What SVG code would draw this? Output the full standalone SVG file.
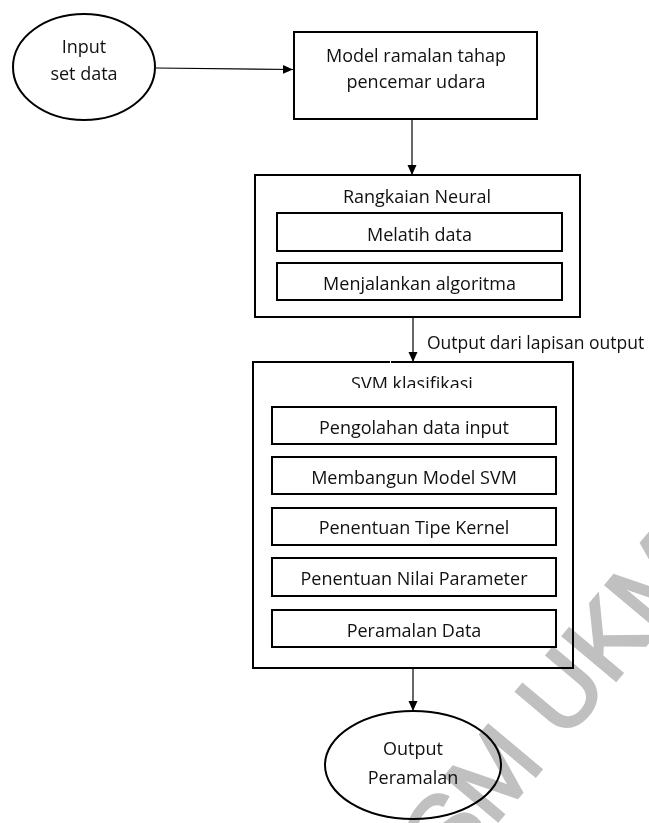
<svg xmlns="http://www.w3.org/2000/svg" width="649" height="823" viewBox="0 0 649 823">
<style>
.t{font-family:"Open Sans","Liberation Sans",sans-serif;font-size:18px;fill:#111;text-anchor:middle}
.box{fill:#fff;stroke:#000;stroke-width:2}
.oval{fill:none;stroke:#000;stroke-width:2}
.con{stroke:#000;stroke-width:1.2;fill:none}
.wm{font-family:"Liberation Sans",Arial,sans-serif;font-size:100px;fill:#c0c0c0;stroke:#c0c0c0;stroke-width:3;mix-blend-mode:multiply}
</style>
<defs>
<marker id="ah" viewBox="0 0 10 10" refX="10" refY="5" markerWidth="10" markerHeight="10" markerUnits="userSpaceOnUse" orient="auto">
<path d="M0,0.5 L10,5 L0,9.5 Z" fill="#000"/>
</marker>
<clipPath id="clipTitle"><rect x="253" y="363" width="320" height="25"/></clipPath>
</defs>
<rect width="649" height="823" fill="#fff"/>

<g id="input">
<ellipse class="oval" cx="84" cy="67" rx="71" ry="53"/>
<text class="t" x="84" y="53">Input</text>
<text class="t" x="84" y="80">set data</text>
</g>

<g id="model">
<rect class="box" x="294" y="32" width="243" height="87"/>
<text class="t" x="416" y="62">Model ramalan tahap</text>
<text class="t" x="416" y="88">pencemar udara</text>
</g>

<g id="neural">
<rect class="box" x="255" y="175" width="325" height="142"/>
<text class="t" x="417" y="203">Rangkaian Neural</text>
<rect class="box" x="277" y="213" width="285" height="38"/>
<text class="t" x="419.5" y="241">Melatih data</text>
<rect class="box" x="277" y="263" width="285" height="37"/>
<text class="t" x="419.5" y="290">Menjalankan algoritma</text>
</g>

<g id="svm">
<rect x="253" y="362" width="320" height="306" fill="#fff"/>
<path d="M253,362 H389 M392,362 H573 V668 H253 V362" fill="none" stroke="#000" stroke-width="2" stroke-linecap="square"/>
<text class="t" x="412" y="390" clip-path="url(#clipTitle)">SVM klasifikasi</text>
<rect class="box" x="272" y="407" width="284" height="37"/>
<text class="t" x="414" y="434">Pengolahan data input</text>
<rect class="box" x="272" y="457" width="284" height="37"/>
<text class="t" x="414" y="484">Membangun Model SVM</text>
<rect class="box" x="272" y="508" width="284" height="37"/>
<text class="t" x="414" y="534">Penentuan Tipe Kernel</text>
<rect class="box" x="272" y="558" width="284" height="38"/>
<text class="t" x="414" y="585">Penentuan Nilai Parameter</text>
<rect class="box" x="272" y="610" width="284" height="37"/>
<text class="t" x="414" y="637">Peramalan Data</text>
</g>

<g id="output">
<ellipse class="oval" cx="413" cy="765" rx="88" ry="54"/>
<text class="t" x="413" y="755">Output</text>
<text class="t" x="413" y="784">Peramalan</text>
</g>

<g id="connectors">
<path class="con" d="M156,68 L293,69.5" marker-end="url(#ah)"/>
<path class="con" d="M412,120 V175" marker-end="url(#ah)"/>
<path class="con" d="M413,318 V362" marker-end="url(#ah)"/>
<text class="t" x="427" y="349" style="text-anchor:start;font-size:17.5px">Output dari lapisan output</text>
<path class="con" d="M413,669 V711" marker-end="url(#ah)"/>
</g>

<text class="wm" transform="translate(450,878) rotate(-50)">SM UKM</text>
</svg>
